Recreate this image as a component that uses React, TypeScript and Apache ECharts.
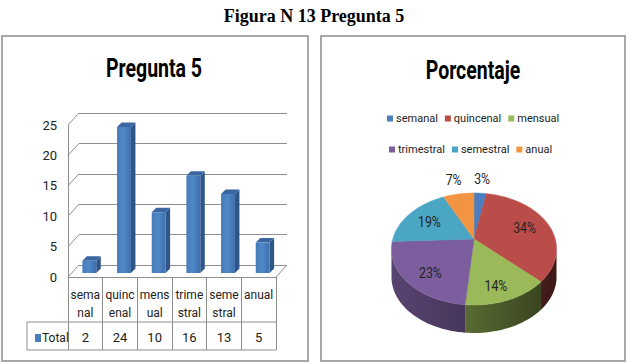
import React, { useEffect, useRef } from "react";
import * as echarts from "echarts";

// ---------- data ----------
const categories = ["semanal", "quincenal", "mensual", "trimestral", "semestral", "anual"];
const tickLabels = ["sema\nnal", "quinc\nenal", "mens\nual", "trime\nstral", "seme\nstral", "anual"];
const totals = [2, 24, 10, 16, 13, 5];
const yTicks = [0, 5, 10, 15, 20, 25];
const pieColors = ["#4A7EBF", "#BA4D4A", "#9AB958", "#7C5E9E", "#4AA6C3", "#F29441"];

const FONT = "Roboto, 'Liberation Sans', sans-serif";
const TXT = "#222";

// ---------- layout constants ----------
const FRONT = { left: 68, top: 125, width: 208, height: 152 };
const WALL_DX = 11;
const WALL_DY = -12;
const BAR_OX = 4;
const BAR_OY = -4;
const BAR_D = 4.5;

const PCX = 474;
const PCY = 239;
const PA = 81.2;
const PB = 54.2;
const PK = 0.1786;
const PDEPTH = 28;

function shade(hex: string, f: number) {
  const n = parseInt(hex.slice(1), 16);
  const r = Math.round(((n >> 16) & 255) * f);
  const g = Math.round(((n >> 8) & 255) * f);
  const b = Math.round((n & 255) * f);
  return `rgb(${r},${g},${b})`;
}

function proj(theta: number, r = 1): [number, number] {
  const u = Math.sin(theta) * r;
  const v = -Math.cos(theta) * r;
  const s = 1 / (1 - PK * v);
  return [PCX + PA * u * s, PCY + PB * v * s];
}

function arc(t0: number, t1: number, dy = 0): number[][] {
  const pts: number[][] = [];
  const n = Math.max(2, Math.ceil(((t1 - t0) * 180) / Math.PI / 2));
  for (let i = 0; i <= n; i++) {
    const t = t0 + ((t1 - t0) * i) / n;
    const p = proj(t);
    pts.push([p[0], p[1] + dy]);
  }
  return pts;
}

export default function App() {
  const ref = useRef<HTMLDivElement>(null);
  useEffect(() => {
    if (!ref.current) return;
    const chart = echarts.init(ref.current, undefined, { renderer: "svg" });
    const sum = totals.reduce((a, b) => a + b, 0);
    const starts: number[] = [];
    let acc = 0;
    totals.forEach((v) => {
      starts.push((acc / sum) * Math.PI * 2);
      acc += v;
    });
    const sideLo = Math.PI / 2 + Math.asin(PK);
    const sideHi = Math.PI * 2 - sideLo;

    const gridColor = "#8E8E8E";
    const titleStyle = {
      fontFamily: FONT,
      fontWeight: "bold",
      fontSize: 26,
      fill: "#000",
      align: "center",
      verticalAlign: "middle",
    };

    const option: any = {
      animation: false,
      backgroundColor: "#fff",
      title: [
        {
          text: "Figura N 13 Pregunta 5",
          left: "center",
          top: 2,
          textStyle: {
            fontFamily: "'Liberation Serif', 'Times New Roman', serif",
            fontWeight: "bold",
            fontSize: 18,
            color: "#000",
          },
        },
      ],
      legend: [
        {
          data: ["Total"],
          left: 30,
          top: 327,
          icon: "rect",
          itemWidth: 6,
          itemHeight: 8,
          itemGap: 2,
          selectedMode: false,
          textStyle: { fontFamily: FONT, fontSize: 12, color: TXT, padding: [0, 0, 0, -4] },
        },
        {
          data: categories.slice(0, 3),
          left: 382,
          top: 108,
          icon: "rect",
          itemWidth: 6,
          itemHeight: 6,
          itemGap: 7,
          selectedMode: false,
          textStyle: { fontFamily: FONT, fontSize: 11, color: TXT, padding: [0, 0, 0, -2] },
        },
        {
          data: categories.slice(3, 6),
          left: 384,
          top: 139,
          icon: "rect",
          itemWidth: 6,
          itemHeight: 6,
          itemGap: 7,
          selectedMode: false,
          textStyle: { fontFamily: FONT, fontSize: 11, color: TXT, padding: [0, 0, 0, -2] },
        },
      ],
      grid: [
        { ...FRONT, containLabel: false },
        {
          left: FRONT.left + WALL_DX,
          top: FRONT.top + WALL_DY,
          width: FRONT.width,
          height: FRONT.height,
          containLabel: false,
        },
      ],
      xAxis: [
        {
          type: "category",
          gridIndex: 0,
          data: tickLabels,
          axisLine: { show: true, lineStyle: { color: gridColor } },
          axisTick: { show: true, length: 73, lineStyle: { color: gridColor } },
          axisLabel: { fontFamily: FONT, fontSize: 12, color: TXT, lineHeight: 18, margin: 9, interval: 0 },
        },
        {
          type: "category",
          gridIndex: 0,
          position: "bottom",
          offset: 45,
          data: totals.map(String),
          axisLine: { show: false },
          axisTick: { show: false },
          axisLabel: { fontFamily: FONT, fontSize: 13, color: TXT, margin: 9, interval: 0 },
        },
        {
          type: "category",
          gridIndex: 1,
          data: categories,
          show: false,
        },
      ],
      yAxis: [
        {
          type: "value",
          gridIndex: 0,
          min: 0,
          max: 25,
          interval: 5,
          axisLine: { show: true, lineStyle: { color: gridColor } },
          axisTick: { show: false },
          splitLine: { show: false },
          axisLabel: { fontFamily: FONT, fontSize: 13, color: TXT, margin: 11 },
        },
        {
          type: "value",
          gridIndex: 1,
          min: 0,
          max: 25,
          interval: 5,
          axisLine: { show: false },
          axisTick: { show: false },
          axisLabel: { show: false },
          splitLine: { show: true, lineStyle: { color: gridColor, width: 1 } },
        },
      ],
      graphic: [
        { type: "rect", shape: { x: 2, y: 36, width: 306, height: 325 }, style: { fill: "none", stroke: "#A8A8A8", lineWidth: 2 }, z: -1 },
        { type: "rect", shape: { x: 321, y: 36, width: 304, height: 325 }, style: { fill: "none", stroke: "#A8A8A8", lineWidth: 2 }, z: -1 },
        { type: "text", x: 154, y: 69, scaleX: 0.75, style: { ...titleStyle, text: "Pregunta 5" } },
        { type: "text", x: 473, y: 71, scaleX: 0.75, style: { ...titleStyle, text: "Porcentaje" } },
        { type: "line", shape: { x1: 27, y1: 322, x2: FRONT.left + FRONT.width, y2: 322 }, style: { stroke: gridColor, lineWidth: 1 } },
        { type: "line", shape: { x1: 27, y1: 350, x2: FRONT.left + FRONT.width, y2: 350 }, style: { stroke: gridColor, lineWidth: 1 } },
        { type: "line", shape: { x1: 27, y1: 322, x2: 27, y2: 350 }, style: { stroke: gridColor, lineWidth: 1 } },
      ],
      series: [
        // left-wall diagonals and floor edge
        {
          type: "custom",
          xAxisIndex: 0,
          yAxisIndex: 0,
          silent: true,
          data: yTicks.map((t) => [0, t]),
          renderItem: (params: any, api: any) => {
            const v = api.value(1);
            const p = api.coord([0, v]);
            const cs = params.coordSys;
            const x0 = cs.x;
            const children: any[] = [
              {
                type: "line",
                shape: { x1: x0, y1: p[1], x2: x0 + WALL_DX, y2: p[1] + WALL_DY },
                style: { stroke: gridColor, lineWidth: 1 },
              },
            ];
            if (v === 0) {
              const xr = cs.x + cs.width;
              children.push({
                type: "line",
                shape: { x1: xr, y1: p[1], x2: xr + WALL_DX, y2: p[1] + WALL_DY },
                style: { stroke: gridColor, lineWidth: 1 },
              });
            }
            return { type: "group", children };
          },
        },
        // 3D bars
        {
          name: "Total",
          type: "custom",
          xAxisIndex: 0,
          yAxisIndex: 0,
          itemStyle: { color: "#4A7EBB" },
          data: totals.map((v, i) => [i, v]),
          renderItem: (params: any, api: any) => {
            const idx = api.value(0);
            const val = api.value(1);
            const base = api.coord([idx, 0]);
            const top = api.coord([idx, val]);
            const band = api.size([1, 0])[0];
            const w = band * 0.4;
            const x0 = base[0] - w / 2 + BAR_OX;
            const x1 = x0 + w;
            const yb = base[1] + BAR_OY;
            const yt = top[1] + BAR_OY;
            return {
              type: "group",
              children: [
                {
                  type: "polygon",
                  shape: { points: [[x1, yb], [x1 + BAR_D, yb - BAR_D], [x1 + BAR_D, yt - BAR_D], [x1, yt]] },
                  style: { fill: "#2F5689" },
                },
                {
                  type: "polygon",
                  shape: { points: [[x0, yt], [x1, yt], [x1 + BAR_D, yt - BAR_D], [x0 + BAR_D, yt - BAR_D]] },
                  style: { fill: "#3A67A2" },
                },
                {
                  type: "rect",
                  shape: { x: x0, y: yt, width: w, height: yb - yt },
                  style: {
                    fill: new echarts.graphic.LinearGradient(0, 0, 1, 0, [
                      { offset: 0, color: "#4779B7" },
                      { offset: 0.45, color: "#5088C8" },
                      { offset: 1, color: "#3F6FAD" },
                    ]),
                  },
                },
              ],
            };
          },
        },
        // legend provider for the pie (draws nothing)
        {
          type: "pie",
          radius: [0, 0],
          center: [PCX, PCY],
          silent: true,
          label: { show: false },
          labelLine: { show: false },
          data: categories.map((n, i) => ({ name: n, value: totals[i], itemStyle: { color: pieColors[i] } })),
        },
        // 3D pie
        {
          type: "custom",
          coordinateSystem: "none",
          silent: true,
          data: totals.map((v, i) => [i, v]),
          renderItem: (params: any, api: any) => {
            const i = api.value(0);
            const v = api.value(1);
            const t0 = starts[i];
            const t1 = t0 + (v / sum) * Math.PI * 2;
            const color = pieColors[i];
            const children: any[] = [];
            const lo = Math.max(t0, sideLo);
            const hi = Math.min(t1, sideHi);
            if (hi > lo) {
              const topArc = arc(lo, hi);
              const botArc = arc(lo, hi, PDEPTH).reverse();
              children.push({
                type: "polygon",
                shape: { points: topArc.concat(botArc) },
                style: {
                  fill: new echarts.graphic.LinearGradient(
                    PCX - PA * 1.02,
                    0,
                    PCX + PA * 1.02,
                    0,
                    [
                      { offset: 0, color: shade(color, 0.72) },
                      { offset: 0.5, color: shade(color, 0.55) },
                      { offset: 1, color: shade(color, 0.33) },
                    ],
                    true
                  ),
                },
              });
            }
            const pts = [[PCX, PCY] as number[]].concat(arc(t0, t1));
            children.push({
              type: "polygon",
              shape: { points: pts },
              style: { fill: color, stroke: color, lineWidth: 0.5 },
            });
            const pct = (v / sum) * 100;
            const mid = (t0 + t1) / 2;
            const outside = pct < 10;
            const lp = proj(mid, outside ? 1.4 : 0.68);
            const extra = outside ? 0 : PDEPTH * 0.3 * Math.max(0, -Math.cos(mid));
            children.push({
              type: "text",
              x: lp[0],
              y: lp[1] + extra,
              scaleX: 0.82,
              style: {
                text: Math.round(pct) + "%",
                fontFamily: FONT,
                fontSize: 15,
                fill: TXT,
                align: "center",
                verticalAlign: "middle",
              },
              z2: 10,
            });
            return { type: "group", children };
          },
        },
      ],
    };
    chart.setOption(option);
    return () => chart.dispose();
  }, []);
  return (
    <div
      ref={ref}
      style={{ position: "fixed", left: 0, top: 0, width: 628, height: 363, background: "#fff" }}
    />
  );
}
